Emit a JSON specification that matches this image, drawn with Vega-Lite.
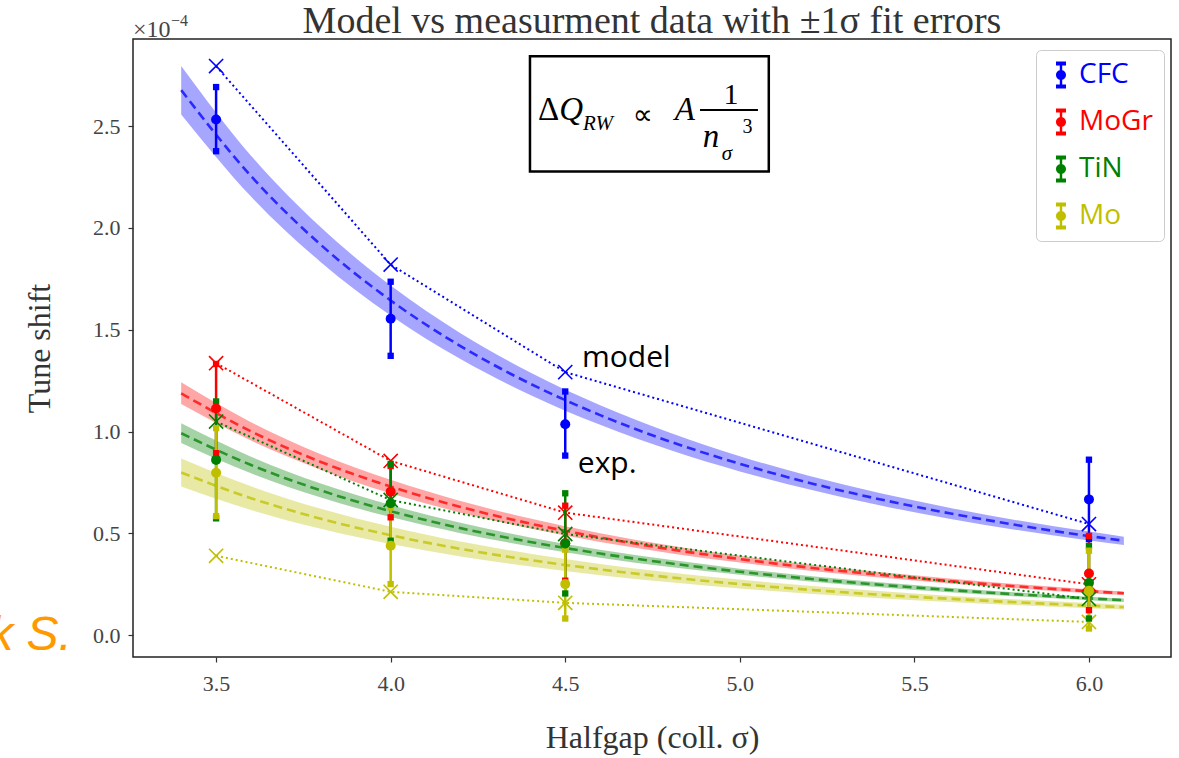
{
  "$schema": "https://vega.github.io/schema/vega-lite/v6.json",
  "autosize": "none",
  "width": 1038,
  "height": 618,
  "padding": {"left": 133, "top": 39, "right": 8, "bottom": 101},
  "background": "white",
  "title": {"text": "Model vs measurment data with ±1σ fit errors", "font": "Liberation Serif", "fontSize": 38, "fontWeight": "normal", "color": "#333333", "anchor": "middle", "offset": -28},
  "config": {
    "view": {"stroke": "#222222", "strokeWidth": 1.5},
    "axis": {"grid": false, "domain": false, "tickColor": "#333333", "tickSize": 5, "tickWidth": 1.2, "labelFont": "Liberation Serif", "labelFontSize": 22, "labelColor": "#444444", "titleFont": "Liberation Serif", "titleFontSize": 32, "titleFontWeight": "normal", "titleColor": "#333333"}
  },
  "datasets": {
    "curves": [
      {"series": "CFC", "x": 3.4, "y": 2.677, "lo": 2.557, "hi": 2.796},
      {"series": "CFC", "x": 3.6, "y": 2.255, "lo": 2.154, "hi": 2.355},
      {"series": "CFC", "x": 3.8, "y": 1.917, "lo": 1.832, "hi": 2.003},
      {"series": "CFC", "x": 4.0, "y": 1.644, "lo": 1.570, "hi": 1.717},
      {"series": "CFC", "x": 4.2, "y": 1.420, "lo": 1.356, "hi": 1.483},
      {"series": "CFC", "x": 4.4, "y": 1.235, "lo": 1.180, "hi": 1.290},
      {"series": "CFC", "x": 4.6, "y": 1.081, "lo": 1.033, "hi": 1.129},
      {"series": "CFC", "x": 4.8, "y": 0.951, "lo": 0.909, "hi": 0.994},
      {"series": "CFC", "x": 5.0, "y": 0.842, "lo": 0.804, "hi": 0.879},
      {"series": "CFC", "x": 5.2, "y": 0.748, "lo": 0.715, "hi": 0.782},
      {"series": "CFC", "x": 5.4, "y": 0.668, "lo": 0.638, "hi": 0.698},
      {"series": "CFC", "x": 5.6, "y": 0.599, "lo": 0.572, "hi": 0.626},
      {"series": "CFC", "x": 5.8, "y": 0.539, "lo": 0.515, "hi": 0.563},
      {"series": "CFC", "x": 6.0, "y": 0.487, "lo": 0.465, "hi": 0.509},
      {"series": "CFC", "x": 6.1, "y": 0.464, "lo": 0.443, "hi": 0.484},
      {"series": "MoGr", "x": 3.4, "y": 1.188, "lo": 1.135, "hi": 1.242},
      {"series": "MoGr", "x": 3.6, "y": 1.001, "lo": 0.956, "hi": 1.046},
      {"series": "MoGr", "x": 3.8, "y": 0.851, "lo": 0.813, "hi": 0.889},
      {"series": "MoGr", "x": 4.0, "y": 0.730, "lo": 0.697, "hi": 0.763},
      {"series": "MoGr", "x": 4.2, "y": 0.630, "lo": 0.602, "hi": 0.659},
      {"series": "MoGr", "x": 4.4, "y": 0.548, "lo": 0.524, "hi": 0.573},
      {"series": "MoGr", "x": 4.6, "y": 0.480, "lo": 0.458, "hi": 0.501},
      {"series": "MoGr", "x": 4.8, "y": 0.422, "lo": 0.403, "hi": 0.441},
      {"series": "MoGr", "x": 5.0, "y": 0.374, "lo": 0.357, "hi": 0.390},
      {"series": "MoGr", "x": 5.2, "y": 0.332, "lo": 0.317, "hi": 0.347},
      {"series": "MoGr", "x": 5.4, "y": 0.297, "lo": 0.283, "hi": 0.310},
      {"series": "MoGr", "x": 5.6, "y": 0.266, "lo": 0.254, "hi": 0.278},
      {"series": "MoGr", "x": 5.8, "y": 0.239, "lo": 0.229, "hi": 0.250},
      {"series": "MoGr", "x": 6.0, "y": 0.216, "lo": 0.206, "hi": 0.226},
      {"series": "MoGr", "x": 6.1, "y": 0.206, "lo": 0.197, "hi": 0.215},
      {"series": "TiN", "x": 3.4, "y": 0.992, "lo": 0.944, "hi": 1.041},
      {"series": "TiN", "x": 3.6, "y": 0.836, "lo": 0.795, "hi": 0.877},
      {"series": "TiN", "x": 3.8, "y": 0.711, "lo": 0.676, "hi": 0.745},
      {"series": "TiN", "x": 4.0, "y": 0.609, "lo": 0.580, "hi": 0.639},
      {"series": "TiN", "x": 4.2, "y": 0.526, "lo": 0.501, "hi": 0.552},
      {"series": "TiN", "x": 4.4, "y": 0.458, "lo": 0.436, "hi": 0.480},
      {"series": "TiN", "x": 4.6, "y": 0.401, "lo": 0.381, "hi": 0.420},
      {"series": "TiN", "x": 4.8, "y": 0.353, "lo": 0.335, "hi": 0.370},
      {"series": "TiN", "x": 5.0, "y": 0.312, "lo": 0.297, "hi": 0.327},
      {"series": "TiN", "x": 5.2, "y": 0.277, "lo": 0.264, "hi": 0.291},
      {"series": "TiN", "x": 5.4, "y": 0.248, "lo": 0.236, "hi": 0.260},
      {"series": "TiN", "x": 5.6, "y": 0.222, "lo": 0.211, "hi": 0.233},
      {"series": "TiN", "x": 5.8, "y": 0.200, "lo": 0.190, "hi": 0.210},
      {"series": "TiN", "x": 6.0, "y": 0.181, "lo": 0.172, "hi": 0.189},
      {"series": "TiN", "x": 6.1, "y": 0.172, "lo": 0.163, "hi": 0.180},
      {"series": "Mo", "x": 3.4, "y": 0.799, "lo": 0.730, "hi": 0.868},
      {"series": "Mo", "x": 3.6, "y": 0.673, "lo": 0.615, "hi": 0.731},
      {"series": "Mo", "x": 3.8, "y": 0.572, "lo": 0.523, "hi": 0.621},
      {"series": "Mo", "x": 4.0, "y": 0.491, "lo": 0.448, "hi": 0.533},
      {"series": "Mo", "x": 4.2, "y": 0.424, "lo": 0.387, "hi": 0.460},
      {"series": "Mo", "x": 4.4, "y": 0.369, "lo": 0.337, "hi": 0.400},
      {"series": "Mo", "x": 4.6, "y": 0.323, "lo": 0.295, "hi": 0.350},
      {"series": "Mo", "x": 4.8, "y": 0.284, "lo": 0.260, "hi": 0.308},
      {"series": "Mo", "x": 5.0, "y": 0.251, "lo": 0.230, "hi": 0.273},
      {"series": "Mo", "x": 5.2, "y": 0.223, "lo": 0.204, "hi": 0.243},
      {"series": "Mo", "x": 5.4, "y": 0.199, "lo": 0.182, "hi": 0.217},
      {"series": "Mo", "x": 5.6, "y": 0.179, "lo": 0.163, "hi": 0.194},
      {"series": "Mo", "x": 5.8, "y": 0.161, "lo": 0.147, "hi": 0.175},
      {"series": "Mo", "x": 6.0, "y": 0.145, "lo": 0.133, "hi": 0.158},
      {"series": "Mo", "x": 6.1, "y": 0.138, "lo": 0.126, "hi": 0.150}
    ],
    "meas": [
      {"series": "CFC", "x": 3.5, "y": 2.533, "lo": 2.377, "hi": 2.692, "model": 2.795},
      {"series": "CFC", "x": 4.0, "y": 1.554, "lo": 1.372, "hi": 1.736, "model": 1.820},
      {"series": "CFC", "x": 4.5, "y": 1.036, "lo": 0.882, "hi": 1.197, "model": 1.292},
      {"series": "CFC", "x": 6.0, "y": 0.667, "lo": 0.472, "hi": 0.862, "model": 0.546},
      {"series": "MoGr", "x": 3.5, "y": 1.113, "lo": 0.894, "hi": 1.332, "model": 1.336},
      {"series": "MoGr", "x": 4.0, "y": 0.705, "lo": 0.579, "hi": 0.831, "model": 0.856},
      {"series": "MoGr", "x": 4.5, "y": 0.452, "lo": 0.268, "hi": 0.636, "model": 0.602},
      {"series": "MoGr", "x": 6.0, "y": 0.303, "lo": 0.123, "hi": 0.488, "model": 0.250},
      {"series": "TiN", "x": 3.5, "y": 0.861, "lo": 0.574, "hi": 1.148, "model": 1.049},
      {"series": "TiN", "x": 4.0, "y": 0.648, "lo": 0.464, "hi": 0.841, "model": 0.664},
      {"series": "TiN", "x": 4.5, "y": 0.451, "lo": 0.205, "hi": 0.697, "model": 0.497},
      {"series": "TiN", "x": 6.0, "y": 0.257, "lo": 0.082, "hi": 0.438, "model": 0.178},
      {"series": "Mo", "x": 3.5, "y": 0.798, "lo": 0.585, "hi": 1.017, "model": 0.390},
      {"series": "Mo", "x": 4.0, "y": 0.439, "lo": 0.251, "hi": 0.628, "model": 0.213},
      {"series": "Mo", "x": 4.5, "y": 0.251, "lo": 0.082, "hi": 0.420, "model": 0.159},
      {"series": "Mo", "x": 6.0, "y": 0.218, "lo": 0.033, "hi": 0.415, "model": 0.065}
    ]
  },
  "encoding": {
    "x": {"type": "quantitative", "scale": {"domain": [3.262, 6.235], "nice": false, "zero": false},
      "axis": {"values": [3.5, 4.0, 4.5, 5.0, 5.5, 6.0], "format": ".1f", "title": "Halfgap (coll. σ)", "labelPadding": 11, "titlePadding": 28}}
  },
  "layer": [
    {
      "data": {"name": "curves"},
      "mark": {"type": "area", "opacity": 0.35, "interpolate": "monotone"},
      "encoding": {
        "x": {"field": "x", "type": "quantitative"},
        "y": {"field": "lo", "type": "quantitative", "scale": {"domain": [-0.107, 2.928], "nice": false, "zero": false},
          "axis": {"values": [0, 0.5, 1.0, 1.5, 2.0, 2.5], "format": ".1f", "title": "Tune shift", "labelPadding": 8, "titlePadding": 36}},
        "y2": {"field": "hi"},
        "color": {"field": "series", "type": "nominal", "scale": {"domain": ["CFC", "MoGr", "TiN", "Mo"], "range": ["#0000ff", "#ff0000", "#008000", "#bfbf00"]}}
      }
    },
    {
      "data": {"name": "curves"},
      "mark": {"type": "line", "strokeDash": [9, 5], "strokeWidth": 2.6, "opacity": 0.75, "interpolate": "monotone"},
      "encoding": {
        "x": {"field": "x", "type": "quantitative"},
        "y": {"field": "y", "type": "quantitative"},
        "color": {"field": "series", "type": "nominal"}
      }
    },
    {
      "data": {"name": "meas"},
      "mark": {"type": "line", "strokeDash": [2, 3], "strokeWidth": 2},
      "encoding": {
        "x": {"field": "x", "type": "quantitative"},
        "y": {"field": "model", "type": "quantitative"},
        "color": {"field": "series", "type": "nominal"}
      }
    },
    {
      "data": {"name": "meas"},
      "mark": {"type": "point", "shape": "M-1,-1L1,1M-1,1L1,-1", "filled": false, "size": 200, "strokeWidth": 1.6, "opacity": 1},
      "encoding": {
        "x": {"field": "x", "type": "quantitative"},
        "y": {"field": "model", "type": "quantitative"},
        "color": {"field": "series", "type": "nominal"}
      }
    },
    {
      "data": {"name": "meas"},
      "mark": {"type": "rule", "strokeWidth": 2.5},
      "encoding": {
        "x": {"field": "x", "type": "quantitative"},
        "y": {"field": "lo", "type": "quantitative"},
        "y2": {"field": "hi"},
        "color": {"field": "series", "type": "nominal"}
      }
    },
    {
      "data": {"name": "meas"},
      "mark": {"type": "point", "shape": "square", "filled": true, "size": 40, "opacity": 1},
      "encoding": {
        "x": {"field": "x", "type": "quantitative"},
        "y": {"field": "lo", "type": "quantitative"},
        "color": {"field": "series", "type": "nominal"}
      }
    },
    {
      "data": {"name": "meas"},
      "mark": {"type": "point", "shape": "square", "filled": true, "size": 40, "opacity": 1},
      "encoding": {
        "x": {"field": "x", "type": "quantitative"},
        "y": {"field": "hi", "type": "quantitative"},
        "color": {"field": "series", "type": "nominal"}
      }
    },
    {
      "data": {"name": "meas"},
      "mark": {"type": "point", "shape": "circle", "filled": true, "size": 100, "opacity": 1},
      "encoding": {
        "x": {"field": "x", "type": "quantitative"},
        "y": {"field": "y", "type": "quantitative"},
        "color": {"field": "series", "type": "nominal",
          "legend": {"title": null, "orient": "none", "legendX": 903, "legendY": 11,
            "symbolType": "M-0.37,-1H0.37V-0.7H-0.37Z M-0.37,0.7H0.37V1H-0.37Z M-0.09,-0.7H0.09V0.7H-0.09Z M-0.37,0A0.37,0.37 0 1,1 0.37,0A0.37,0.37 0 1,1 -0.37,0Z",
            "symbolSize": 729, "symbolStrokeWidth": 0, "symbolOpacity": 1, "symbolDash": [],
            "labelFont": "Open Sans", "labelFontSize": 28, "labelOffset": 4, "rowPadding": 19,
            "strokeColor": "#cccccc", "fillColor": "white", "cornerRadius": 5, "padding": 11,
            "encode": {"labels": {"update": {"fill": {"scale": "color", "field": "value"}}}}}}
      }
    },
    {
      "data": {"values": [{"x": 4.399, "x2": 5.083, "y": 2.277, "y2": 2.843}]},
      "mark": {"type": "rect", "fill": null, "fillOpacity": 0, "stroke": "black", "strokeWidth": 2.5},
      "encoding": {
        "x": {"field": "x", "type": "quantitative"}, "x2": {"field": "x2"},
        "y": {"field": "y", "type": "quantitative"}, "y2": {"field": "y2"}
      }
    },
    {
      "data": {"values": [{"x": 4.422, "y": 2.528, "t": "Δ"}]},
      "mark": {"type": "text", "font": "Liberation Serif", "fontSize": 33, "align": "left", "baseline": "alphabetic", "color": "black"},
      "encoding": {"x": {"field": "x", "type": "quantitative"}, "y": {"field": "y", "type": "quantitative"}, "text": {"field": "t"}}
    },
    {
      "data": {"values": [{"x": 4.483, "y": 2.528, "t": "Q"}, {"x": 4.814, "y": 2.528, "t": "A"}, {"x": 4.894, "y": 2.400, "t": "n"}]},
      "mark": {"type": "text", "font": "Liberation Serif", "fontStyle": "italic", "fontSize": 33, "align": "left", "baseline": "alphabetic", "color": "black"},
      "encoding": {"x": {"field": "x", "type": "quantitative"}, "y": {"field": "y", "type": "quantitative"}, "text": {"field": "t"}}
    },
    {
      "data": {"values": [{"x": 4.551, "y": 2.479, "t": "RW"}, {"x": 4.948, "y": 2.336, "t": "σ"}]},
      "mark": {"type": "text", "font": "Liberation Serif", "fontStyle": "italic", "fontSize": 21, "align": "left", "baseline": "alphabetic", "color": "black"},
      "encoding": {"x": {"field": "x", "type": "quantitative"}, "y": {"field": "y", "type": "quantitative"}, "text": {"field": "t"}}
    },
    {
      "data": {"values": [{"x": 4.722, "y": 2.548, "t": "∝"}]},
      "mark": {"type": "text", "font": "DejaVu Sans", "fontSize": 28, "align": "center", "baseline": "middle", "color": "black"},
      "encoding": {"x": {"field": "x", "type": "quantitative"}, "y": {"field": "y", "type": "quantitative"}, "text": {"field": "t"}}
    },
    {
      "data": {"values": [{"x": 4.975, "y": 2.607, "t": "1"}]},
      "mark": {"type": "text", "font": "Liberation Serif", "fontSize": 30, "align": "center", "baseline": "alphabetic", "color": "black"},
      "encoding": {"x": {"field": "x", "type": "quantitative"}, "y": {"field": "y", "type": "quantitative"}, "text": {"field": "t"}}
    },
    {
      "data": {"values": [{"x": 5.008, "y": 2.464, "t": "3"}]},
      "mark": {"type": "text", "font": "Liberation Serif", "fontSize": 20, "align": "left", "baseline": "alphabetic", "color": "black"},
      "encoding": {"x": {"field": "x", "type": "quantitative"}, "y": {"field": "y", "type": "quantitative"}, "text": {"field": "t"}}
    },
    {
      "data": {"values": [{"x": 4.886, "x2": 5.052, "y": 2.579}]},
      "mark": {"type": "rule", "stroke": "black", "strokeWidth": 2},
      "encoding": {"x": {"field": "x", "type": "quantitative"}, "x2": {"field": "x2"}, "y": {"field": "y", "type": "quantitative"}}
    },
    {
      "data": {"values": [{"x": 4.548, "y": 1.318, "t": "model"}, {"x": 4.536, "y": 0.797, "t": "exp."}]},
      "mark": {"type": "text", "font": "Open Sans", "fontSize": 30, "align": "left", "baseline": "alphabetic", "color": "black"},
      "encoding": {"x": {"field": "x", "type": "quantitative"}, "y": {"field": "y", "type": "quantitative"}, "text": {"field": "t"}}
    },
    {
      "data": {"values": [{"x": 3.262, "y": 2.938, "t": "×10"}]},
      "mark": {"type": "text", "font": "Liberation Serif", "fontSize": 24, "align": "left", "baseline": "alphabetic", "color": "#444444"},
      "encoding": {"x": {"field": "x", "type": "quantitative"}, "y": {"field": "y", "type": "quantitative"}, "text": {"field": "t"}}
    },
    {
      "data": {"values": [{"x": 3.371, "y": 2.99, "t": "−4"}]},
      "mark": {"type": "text", "font": "Liberation Serif", "fontSize": 16, "align": "left", "baseline": "alphabetic", "color": "#444444"},
      "encoding": {"x": {"field": "x", "type": "quantitative"}, "y": {"field": "y", "type": "quantitative"}, "text": {"field": "t"}}
    },
    {
      "data": {"values": [{"x": 3.087, "y": -0.074, "t": "k S."}]},
      "mark": {"type": "text", "font": "Liberation Sans", "fontStyle": "italic", "fontSize": 48, "align": "right", "baseline": "alphabetic", "color": "#ff9900"},
      "encoding": {"x": {"field": "x", "type": "quantitative"}, "y": {"field": "y", "type": "quantitative"}, "text": {"field": "t"}}
    }
  ]
}
